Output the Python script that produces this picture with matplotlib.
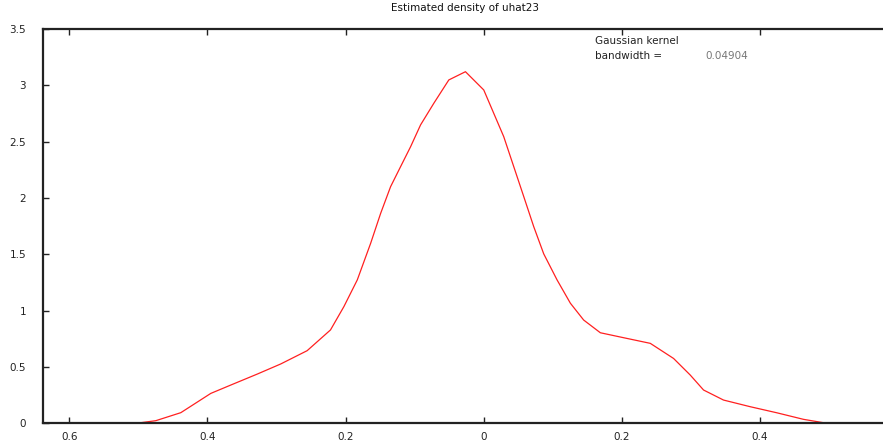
import matplotlib
matplotlib.use("Agg")
import matplotlib.pyplot as plt

# Density curve
x_vals = [-0.4965, -0.4748, -0.4386, -0.3952, -0.3663, -0.3277, -0.294, -0.2557,
          -0.2219, -0.2025, -0.1831, -0.1638, -0.1493, -0.1349, -0.1204, -0.1059,
          -0.0915, -0.0723, -0.0506, -0.0265, 0.0, 0.0289, 0.0434, 0.0579, 0.0723,
          0.0868, 0.1061, 0.1254, 0.1446, 0.1688, 0.2025, 0.2411, 0.2748, 0.2989,
          0.3182, 0.3471, 0.3857, 0.4243, 0.4628, 0.4917]
y_vals = [0.007, 0.025, 0.096, 0.267, 0.341, 0.439, 0.528, 0.646,
          0.830, 1.037, 1.274, 1.598, 1.864, 2.101, 2.279, 2.456,
          2.649, 2.841, 3.048, 3.121, 2.959, 2.545, 2.279, 2.013, 1.747,
          1.505, 1.274, 1.067, 0.918, 0.805, 0.761, 0.711, 0.577, 0.430,
          0.297, 0.208, 0.149, 0.095, 0.037, 0.007]

x_ticks = [-0.6, -0.4, -0.2, 0.0, 0.2, 0.4]
x_tick_labels = ["0.6", "0.4", "0.2", "0", "0.2", "0.4"]
y_ticks = [0, 0.5, 1, 1.5, 2, 2.5, 3, 3.5]
y_tick_labels = ["0", "0.5", "1", "1.5", "2", "2.5", "3", "3.5"]

title = "Estimated density of uhat23"
legend_line1 = "Gaussian kernel"
legend_line2 = "bandwidth = "
legend_value = "0.04904"

plt.rcParams['font.family'] = ['DejaVu Sans']
fig = plt.figure(figsize=(8.83, 4.48), dpi=100)
ax = fig.add_axes([0.0484, 0.0547, 0.9516, 0.8806])

ax.plot(x_vals, y_vals, color="#ff2020", linewidth=0.9)

ax.set_xlim(-0.6385, 0.578)
ax.set_ylim(0, 3.5)
ax.set_xticks(x_ticks)
ax.set_xticklabels(x_tick_labels)
ax.set_yticks(y_ticks)
ax.set_yticklabels(y_tick_labels)

ax.tick_params(direction="in", length=4, width=1, top=True, right=False,
               labelsize=7.5, colors="#222222")
ax.tick_params(axis="y", pad=12)
ax.tick_params(axis="x", pad=6)
for side in ["left", "bottom", "top"]:
    ax.spines[side].set_linewidth(1.6)
    ax.spines[side].set_color("#222222")
ax.spines["right"].set_visible(False)

fig.text(0.527, 0.982, title, ha="center", va="center", fontsize=7.5, color="#111111")
fig.text(595 / 883, 1 - 41 / 448, legend_line1, ha="left", va="center", fontsize=7.5, color="#222222")
fig.text(595 / 883, 1 - 56 / 448, legend_line2, ha="left", va="center", fontsize=7.5, color="#222222")
fig.text(705 / 883, 1 - 56 / 448, legend_value, ha="left", va="center", fontsize=7.5, color="#777777")

fig.savefig("out.png", dpi=100)
